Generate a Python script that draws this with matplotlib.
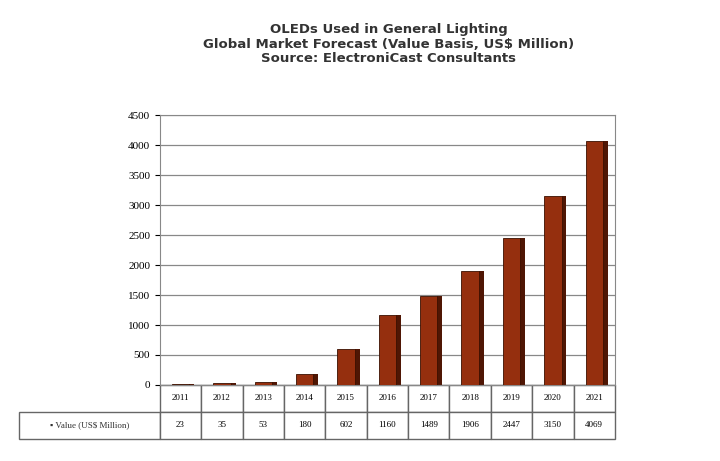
import matplotlib.pyplot as plt
import numpy as np

years = ["2011", "2012", "2013", "2014", "2015", "2016", "2017", "2018", "2019", "2020", "2021"]
values = [23, 35, 53, 180, 602, 1160, 1489, 1906, 2447, 3150, 4069]
value_labels = ["23", "35", "53", "180", "602", "1160", "1489", "1906", "2447", "3150", "4069"]
yticks = [0, 500, 1000, 1500, 2000, 2500, 3000, 3500, 4000, 4500]

fig = plt.figure(figsize=(7.2, 4.61), dpi=100)
ax = fig.add_axes([0.222, 0.165, 0.632, 0.585])

x = np.arange(len(years))
w = 0.42
ax.bar(x, values, width=w, color="#952f0e", edgecolor="#3a1000", linewidth=0.6, zorder=3)
# fake 3d side
ax.bar(x + w / 2 + 0.06, values, width=0.12, color="#4f1604", zorder=2)
ax.set_xlim(-0.5, len(years) - 0.5)
ax.set_ylim(0, 4500)
ax.set_yticks(yticks)
ax.set_yticklabels([str(v) for v in yticks], fontsize=8, family="Liberation Serif")
ax.yaxis.grid(True, color="#888888", linewidth=0.9, zorder=0)
ax.set_xticks([])
for s in ax.spines.values():
    s.set_color("#888888")

lw = 0.31
cw = [lw] + [1.0 / len(years)] * len(years)
tab = ax.table(cellText=[["", *years], ["\u25aa Value (US$ Million)", *value_labels]],
               cellLoc="center", colWidths=cw, bbox=[-lw, -0.2, 1 + lw, 0.2])
tab.auto_set_font_size(False)
tab.set_fontsize(6.5)
for (r, c), cell in tab.get_celld().items():
    cell.set_edgecolor("#666666")
    cell.get_text().set_family("Liberation Serif")
    if c == 0:
        cell.get_text().set_color("#333333")
        if r == 0:
            cell.set_edgecolor("none")

fig.text(0.54, 0.95, "OLEDs Used in General Lighting\nGlobal Market Forecast (Value Basis, US$ Million)\nSource: ElectroniCast Consultants",
         ha="center", va="top", fontsize=9.5, fontweight="bold", color="#333333", linespacing=1.15)

fig.savefig("out.png", dpi=100)
